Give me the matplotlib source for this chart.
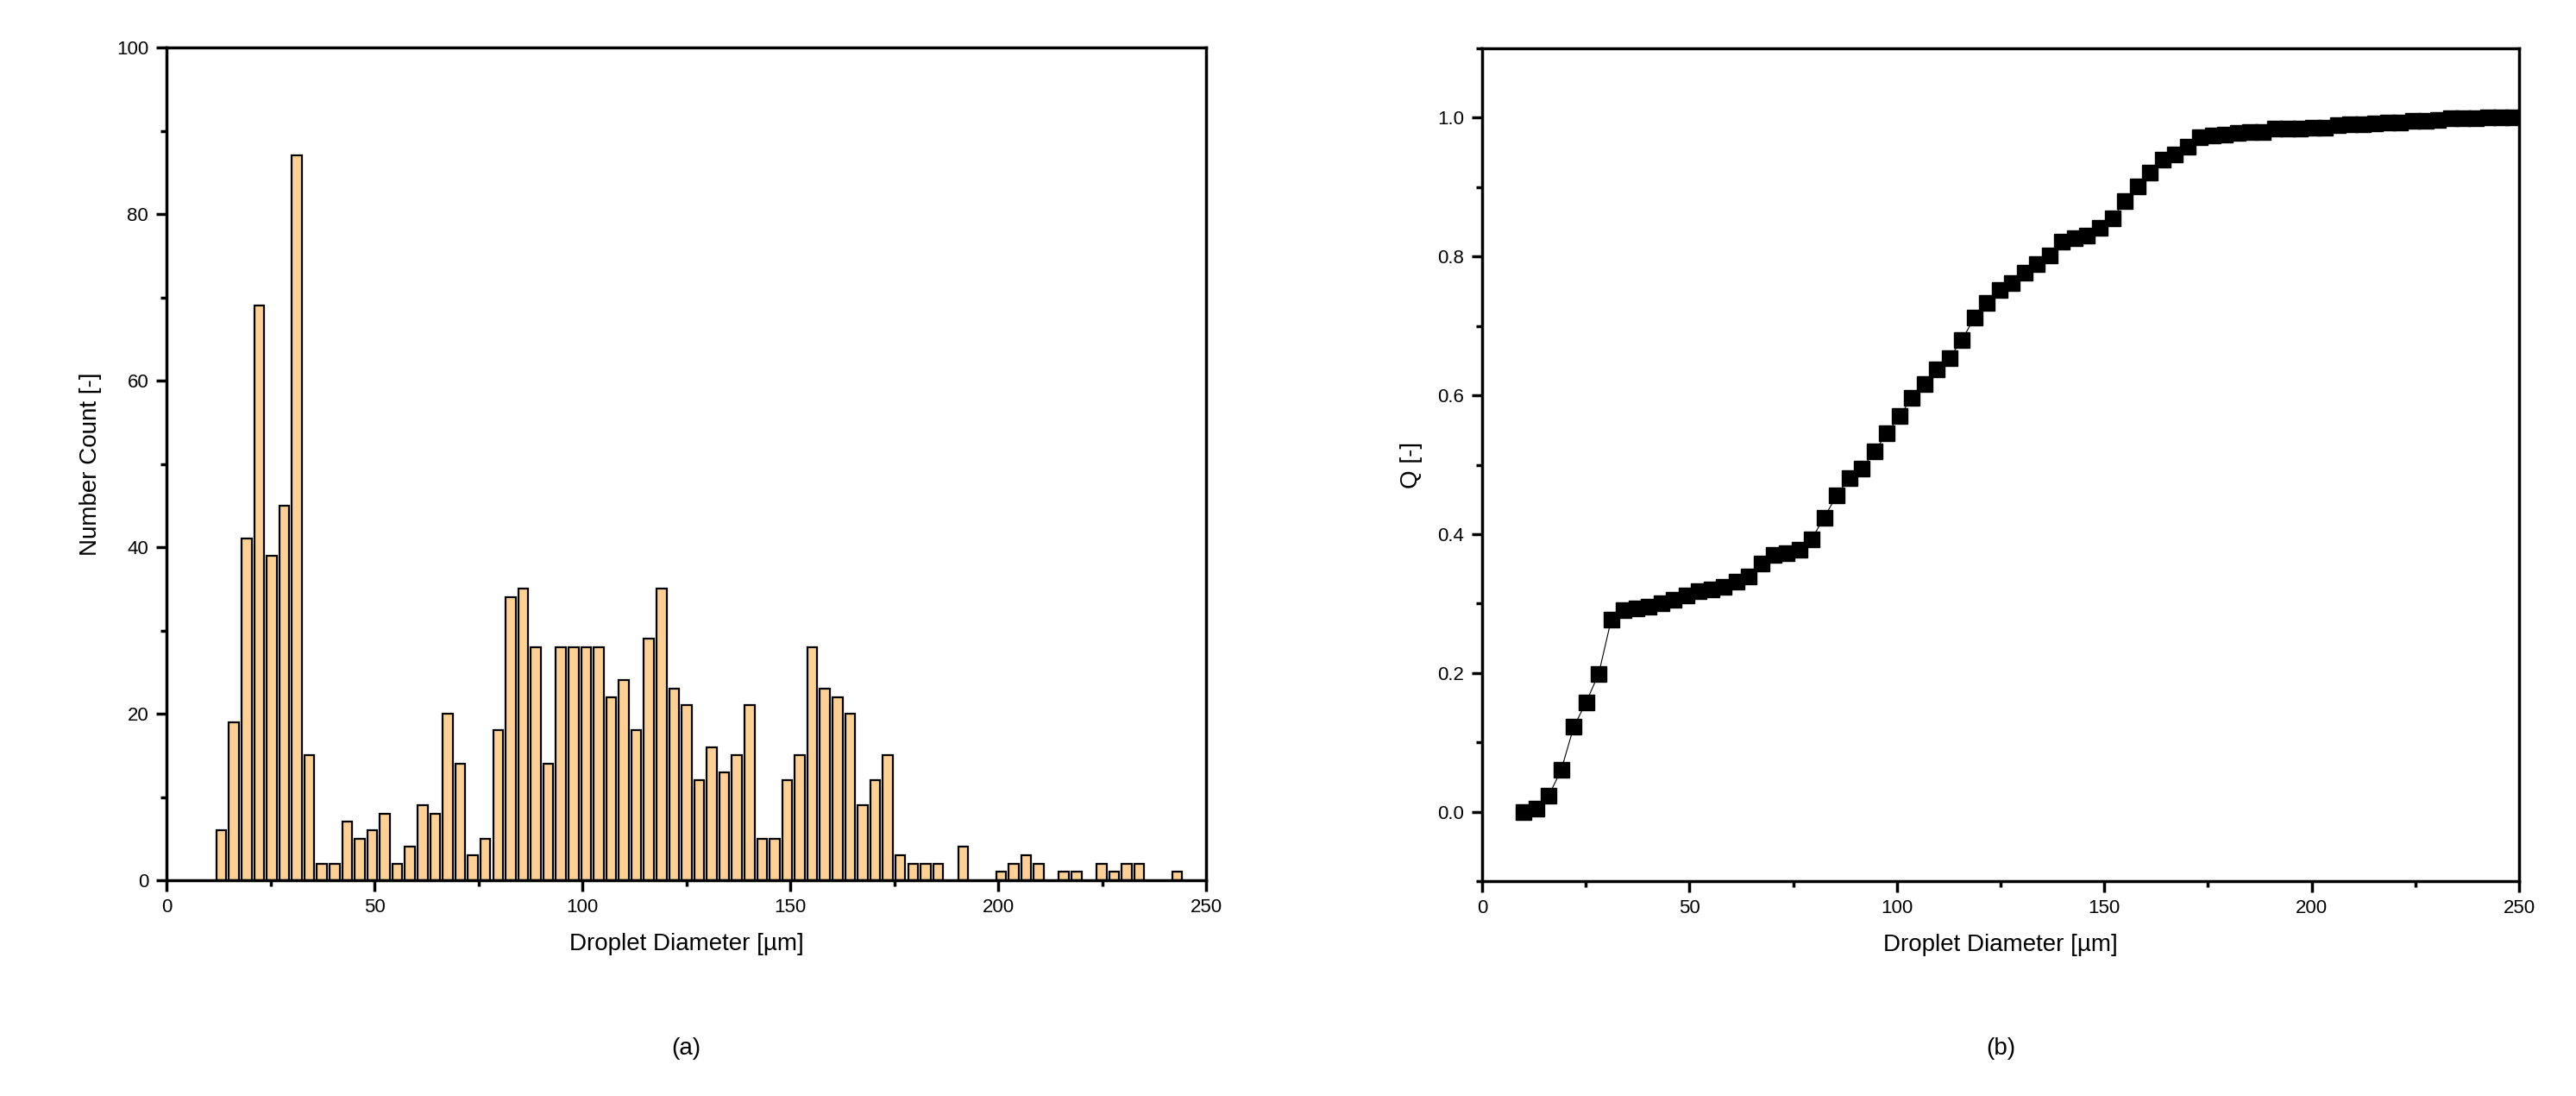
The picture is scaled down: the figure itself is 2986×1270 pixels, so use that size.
import matplotlib
matplotlib.use("Agg")
import matplotlib.pyplot as plt
import numpy as np
from matplotlib.ticker import MultipleLocator

plt.rcParams['font.family'] = ['Liberation Sans', 'DejaVu Sans']

bin_start = 13.2
bin_step = 3.024
counts = [6, 19, 41, 69, 39, 45, 87, 15, 2, 2, 7, 5, 6, 8, 2, 4, 9, 8, 20, 14,
          3, 5, 18, 34, 35, 28, 14, 28, 28, 28, 28, 22, 24, 18, 29, 35, 23, 21, 12, 16,
          13, 15, 21, 5, 5, 12, 15, 28, 23, 22, 20, 9, 12, 15, 3, 2, 2, 2, 0, 4,
          0, 0, 1, 2, 3, 2, 0, 1, 1, 0, 2, 1, 2, 2, 0, 0, 1]
q_start = 10.0
q_step = 3.02
q_values = [0.0, 0.005, 0.023, 0.060, 0.122, 0.158, 0.199, 0.277, 0.291, 0.293,
            0.295, 0.301, 0.306, 0.311, 0.318, 0.320, 0.324, 0.332, 0.339, 0.357,
            0.370, 0.373, 0.377, 0.393, 0.424, 0.456, 0.481, 0.494, 0.519, 0.545,
            0.570, 0.596, 0.616, 0.637, 0.654, 0.680, 0.712, 0.733, 0.752, 0.762,
            0.777, 0.789, 0.802, 0.821, 0.826, 0.830, 0.841, 0.855, 0.880, 0.901,
            0.921, 0.939, 0.947, 0.958, 0.972, 0.975, 0.976, 0.978, 0.980, 0.980,
            0.984, 0.984, 0.984, 0.985, 0.986, 0.989, 0.991, 0.991, 0.992, 0.993,
            0.993, 0.995, 0.995, 0.997, 0.999, 0.999, 0.999, 1.0, 1.0, 1.0]

bin_centers = bin_start + bin_step * np.arange(len(counts))
q_x = q_start + q_step * np.arange(len(q_values))

W, H = 2986, 1270
fig = plt.figure(figsize=(W / 100, H / 100), dpi=100)
ax1 = fig.add_axes([193 / W, 1 - 1020 / H, (1398 - 193) / W, (1020 - 55) / H])
ax2 = fig.add_axes([1718 / W, 1 - 1021 / H, (2920 - 1718) / W, (1021 - 56) / H])

counts_pos = [c if c > 0 else np.nan for c in counts]
ax1.bar(bin_centers, counts_pos, width=2.4, color='#FFD093', edgecolor='black', linewidth=1.6)
ax1.set_xlim(0, 250)
ax1.set_ylim(0, 100)
ax1.xaxis.set_major_locator(MultipleLocator(50))
ax1.xaxis.set_minor_locator(MultipleLocator(25))
ax1.yaxis.set_major_locator(MultipleLocator(20))
ax1.yaxis.set_minor_locator(MultipleLocator(10))
ax1.set_xlabel('Droplet Diameter [µm]', fontsize=20, labelpad=14)
ax1.set_ylabel('Number Count [-]', fontsize=20, labelpad=12)

ax2.plot(q_x, q_values, color='black', linewidth=0.8, marker='s', markersize=13,
         markerfacecolor='black', markeredgecolor='black', clip_on=True)
ax2.set_xlim(0, 250)
ax2.set_ylim(-0.1, 1.1)
ax2.xaxis.set_major_locator(MultipleLocator(50))
ax2.xaxis.set_minor_locator(MultipleLocator(25))
ax2.yaxis.set_major_locator(MultipleLocator(0.2))
ax2.yaxis.set_minor_locator(MultipleLocator(0.1))
ax2.set_yticks(np.arange(0, 1.01, 0.2))
ax2.set_yticklabels([f'{v:.1f}' for v in np.arange(0, 1.01, 0.2)])
ax2.set_xlabel('Droplet Diameter [µm]', fontsize=20, labelpad=14)
ax2.set_ylabel('Q [-]', fontsize=20, labelpad=12)

for ax in (ax1, ax2):
    for s in ax.spines.values():
        s.set_linewidth(2.5)
    ax.tick_params(which='major', direction='out', length=9, width=2.5, labelsize=16, pad=6)
    ax.tick_params(which='minor', direction='out', length=5, width=2.5)

fig.text((193 + 1398) / 2 / W, 1 - 1215 / H, '(a)', ha='center', va='center', fontsize=20)
fig.text((1718 + 2920) / 2 / W, 1 - 1215 / H, '(b)', ha='center', va='center', fontsize=20)

fig.savefig('out.png', dpi=100)
